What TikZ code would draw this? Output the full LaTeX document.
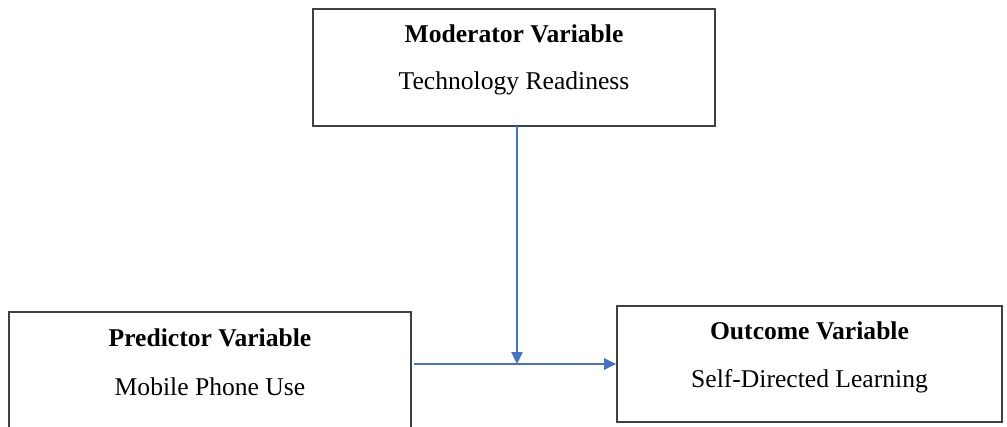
\documentclass[tikz,border=0pt]{standalone}
\usepackage{fontspec}
\setmainfont{Liberation Serif}
\usetikzlibrary{arrows.meta}
\definecolor{arrowblue}{HTML}{4472C4}
\definecolor{boxline}{HTML}{404040}
\begin{document}
\begin{tikzpicture}[x=1pt,y=-1pt,
  varbox/.style={draw=boxline,line width=1.6pt,inner sep=0pt},
  headtext/.style={font=\fontsize{25.6}{30}\selectfont\bfseries,inner sep=0pt},
  bodytext/.style={font=\fontsize{25.6}{30}\selectfont,inner sep=0pt},
  link/.style={draw=arrowblue,line width=2.4pt,-{Triangle[length=12pt,width=11pt]}}]
\useasboundingbox (0,0) rectangle (1007,426);
\clip (0,0) rectangle (1007,426);
\node[varbox,minimum width=402pt,minimum height=117pt] (mod) at (514,67.5) {};
\node[varbox,minimum width=402pt,minimum height=130pt] (pred) at (210,377) {};
\node[varbox,minimum width=385pt,minimum height=116pt] (out) at (809.5,364) {};
\node[headtext] (modh) at (514,34) {Moderator Variable};
\node[bodytext] (modb) at (514,83) {Technology Readiness};
\node[headtext] (predh) at (210,338) {Predictor Variable};
\node[bodytext] (predb) at (210,387) {Mobile Phone Use};
\node[headtext] (outh) at (809.5,331) {Outcome Variable};
\node[bodytext] (outb) at (809.5,381) {Self-Directed Learning};
\coordinate (top) at (517,126);
\coordinate (join) at (517,364);
\coordinate (start) at (414,364);
\draw[link] (top) -- (join);
\draw[link] (start) -- (out.west);
\end{tikzpicture}
\end{document}
